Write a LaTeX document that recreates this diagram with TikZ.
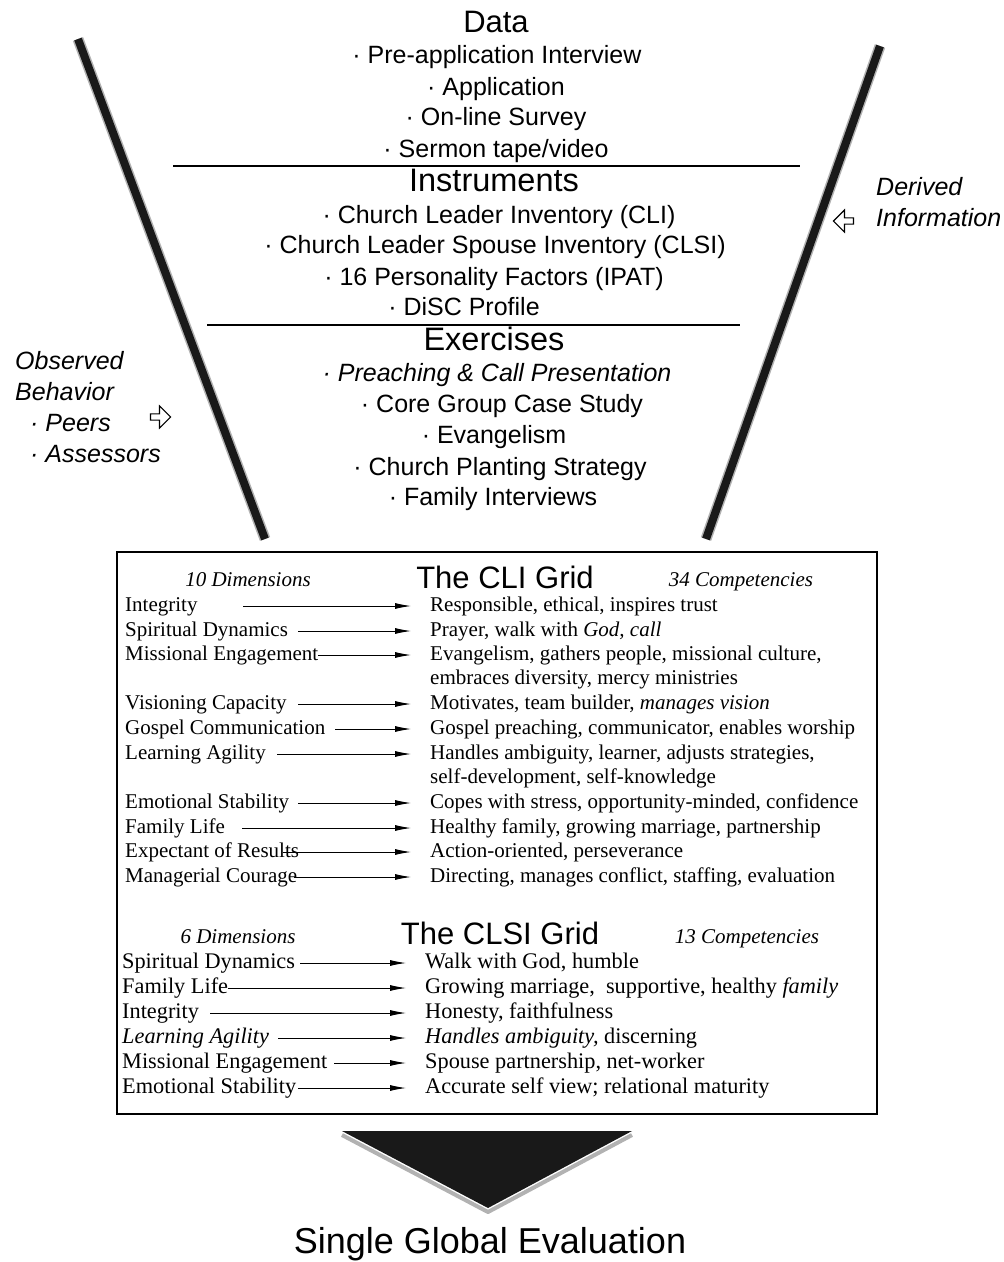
\documentclass[tikz,border=0pt]{standalone}
\usepackage{fontspec}
\setmainfont{Liberation Serif}
\newfontfamily\hv{Liberation Sans}
\usetikzlibrary{arrows.meta,shapes.arrows}
\begin{document}
\begin{tikzpicture}[x=1pt,y=-1pt,
  toptxt/.style={font=\hv\fontsize{25}{25}\selectfont, anchor=base, inner sep=0pt},
  headtxt/.style={font=\hv\fontsize{32.5}{32.5}\selectfont, anchor=base, inner sep=0pt},
  sidetxt/.style={font=\hv\itshape\fontsize{25}{25}\selectfont, anchor=base west, inner sep=0pt},
  gridtxt/.style={font=\fontsize{21}{21}\selectfont, anchor=base west, inner sep=0pt},
  sgridtxt/.style={font=\fontsize{22.3}{22.3}\selectfont, anchor=base west, inner sep=0pt},
  gridhead/.style={font=\itshape\fontsize{21}{21}\selectfont, anchor=base, inner sep=0pt},
  arr/.style={-{Latex[length=16pt,width=6pt]}, line width=0.9pt},
  rulel/.style={line width=1.1pt},
  barline/.style={line width=8pt, black!90, line cap=butt},
  barhalo/.style={line width=11pt, black!30, line cap=butt},
  hollow/.style={single arrow, draw, line width=1.1pt, fill=white, minimum height=20pt, minimum width=22pt, single arrow head extend=4pt, inner sep=1pt}
]
\useasboundingbox (0,0) rectangle (1004,1262);

% funnel bars
\coordinate (lbt) at (78,39);
\coordinate (lbb) at (265,539);
\coordinate (rbt) at (880,46);
\coordinate (rbb) at (706,539);
\draw[barhalo] (lbt) -- (lbb);
\draw[barline] (lbt) -- (lbb);
\draw[barhalo] (rbt) -- (rbb);
\draw[barline] (rbt) -- (rbb);

% top text
\node[headtxt, font=\hv\fontsize{31}{31}\selectfont] (data) at (496,32) {Data};
\node[toptxt] (d1) at (497,63) {· Pre-application Interview};
\node[toptxt] (d2) at (496,95) {· Application};
\node[toptxt] (d3) at (496,125) {· On-line Survey};
\node[toptxt] (d4) at (496,157) {· Sermon tape/video};
\coordinate (l1a) at (173,166);
\coordinate (l1b) at (800,166);
\draw[rulel] (l1a) -- (l1b);
\node[headtxt] (instr) at (494,191) {Instruments};
\node[toptxt] (i1) at (499,223) {· Church Leader Inventory (CLI)};
\node[toptxt] (i2) at (495,253) {· Church Leader Spouse Inventory (CLSI)};
\node[toptxt] (i3) at (494,285) {· 16 Personality Factors (IPAT)};
\node[toptxt] (i4) at (464,315) {· DiSC Profile};
\coordinate (l2a) at (207,325);
\coordinate (l2b) at (740,325);
\draw[rulel] (l2a) -- (l2b);
\node[headtxt] (exer) at (494,350) {Exercises};
\node[toptxt, font=\hv\itshape\fontsize{25}{25}\selectfont] (e1) at (497,381) {· Preaching \& Call Presentation};
\node[toptxt] (e2) at (502,412) {· Core Group Case Study};
\node[toptxt] (e3) at (494,443) {· Evangelism};
\node[toptxt] (e4) at (500,475) {· Church Planting Strategy};
\node[toptxt] (e5) at (493,505) {· Family Interviews};

% side texts
\node[sidetxt] (ob1) at (15,369) {Observed};
\node[sidetxt] (ob2) at (15,400) {Behavior};
\node[sidetxt] (ob3) at (30,431) {· Peers};
\node[sidetxt] (ob4) at (30,462) {· Assessors};
\node[hollow] (harL) at (159,417) {};
\node[sidetxt] (dv1) at (876,195) {Derived};
\node[sidetxt] (dv2) at (876,226) {Information};
\node[hollow, shape border rotate=180] (harR) at (845,221) {};

% grid box
\coordinate (bx1) at (117,552);
\coordinate (bx2) at (877,1114);
\draw[line width=1.1pt] (bx1) rectangle (bx2);

% CLI grid
\node[gridhead] (cdim) at (248,586) {10 Dimensions};
\node[headtxt, font=\hv\fontsize{31}{31}\selectfont] (cli) at (505,588) {The CLI Grid};
\node[gridhead] (ccomp) at (741,586) {34 Competencies};

\foreach \n/\y/\sx/\lt/\rt in {
 1/606/243/Integrity/{Responsible, ethical, inspires trust},
 2/631/298/Spiritual Dynamics/{Prayer, walk with \textit{God, call}},
 3/655/318/Missional Engagement/{Evangelism, gathers people, missional culture,},
 4/704/298/Visioning Capacity/{Motivates, team builder, \textit{manages vision}},
 5/729/335/Gospel Communication/{Gospel preaching, communicator, enables worship},
 6/754/277/Learning Agility/{Handles ambiguity, learner, adjusts strategies,},
 7/803/298/Emotional Stability/{Copes with stress, opportunity-minded, confidence},
 8/828/242/Family Life/{Healthy family, growing marriage, partnership},
 9/852/283/Expectant of Results/{Action-oriented, perseverance},
 10/877/294/Managerial Courage/{Directing, manages conflict, staffing, evaluation}}{
  \node[gridtxt] (cl\n) at (125,\y+5) {\lt};
  \node[gridtxt] (cr\n) at (430,\y+5) {\rt};
  \coordinate (cs\n) at (\sx,\y);
  \draw[arr] (cs\n) -- ([xshift=-19pt]cs\n -| cr\n.west);
}
\node[gridtxt] (cr3b) at (430,684) {embraces diversity, mercy ministries};
\node[gridtxt] (cr6b) at (430,783) {self-development, self-knowledge};

% CLSI grid
\node[gridhead] (sdim) at (238,943) {6 Dimensions};
\node[headtxt, font=\hv\fontsize{31}{31}\selectfont] (clsi) at (500,944) {The CLSI Grid};
\node[gridhead] (scomp) at (747,943) {13 Competencies};

\foreach \n/\y/\sx/\lt/\rt in {
 1/963/300/Spiritual Dynamics/{Walk with God, humble},
 2/988/228/Family Life/{Growing marriage,\ \ supportive, healthy \textit{family}},
 3/1013/210/Integrity/{Honesty, faithfulness},
 4/1038/278/\textit{Learning Agility}/{\textit{Handles ambiguity,} discerning},
 5/1063/334/Missional Engagement/{Spouse partnership, net-worker},
 6/1088/298/Emotional Stability/{Accurate self view; relational maturity}}{
  \node[sgridtxt] (sl\n) at (122,\y+5) {\lt};
  \node[sgridtxt] (sr\n) at (425,\y+5) {\rt};
  \coordinate (ss\n) at (\sx,\y);
  \draw[arr] (ss\n) -- ([xshift=-19pt]ss\n -| sr\n.west);
}

% bottom triangle
\coordinate (t1) at (342,1131);
\coordinate (t2) at (632,1131);
\coordinate (t3) at (488,1208);
\draw[black!30, line width=4pt, line join=round] ([yshift=-4pt]t1) -- ([yshift=-4pt]t3) -- ([yshift=-4pt]t2);
\fill[black!90] (t1) -- (t2) -- (t3) -- cycle;

\node[font=\hv\fontsize{36}{36}\selectfont, anchor=base, inner sep=0pt] (sge) at (490,1253) {Single Global Evaluation};
\end{tikzpicture}
\end{document}
